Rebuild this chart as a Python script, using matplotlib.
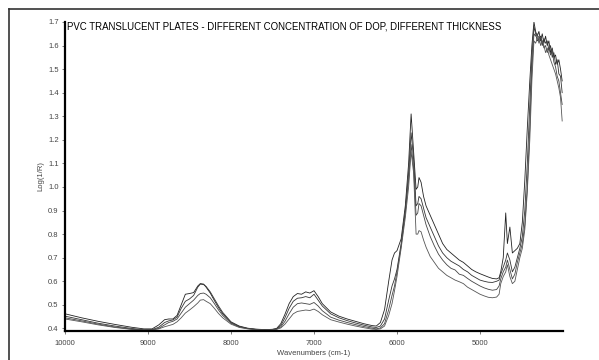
import matplotlib
matplotlib.use('Agg')
from matplotlib import pyplot as plt
from matplotlib.lines import Line2D

plt.rcParams['font.family'] = ['Liberation Sans', 'DejaVu Sans']

# wavenumbers (cm-1) and log(1/R) for the four plates
wavenumbers = [
    10000, 9800, 9600, 9400, 9200, 9050, 8950, 8870, 8800, 8750, 8700, 8650,
    8600, 8550, 8500, 8450, 8400, 8370, 8330, 8300, 8250, 8200, 8150, 8100,
    8000, 7900, 7800, 7700, 7600, 7500, 7450, 7400, 7350, 7300, 7250, 7200,
    7150, 7100, 7050, 7000, 6950, 6900, 6800, 6700, 6600, 6500, 6400, 6300,
    6250, 6200, 6150, 6100, 6060, 6030, 6000, 5950, 5900, 5860, 5830, 5800,
    5770, 5750, 5735, 5710, 5680, 5650, 5600, 5550, 5500, 5450, 5400, 5350,
    5300, 5250, 5200, 5150, 5100, 5050, 5000, 4950, 4900, 4850, 4800, 4770,
    4750, 4720, 4690, 4670, 4640, 4610, 4580, 4550, 4520, 4490, 4460, 4430,
    4400, 4375, 4350, 4330, 4310, 4290, 4270, 4250, 4230, 4210, 4190, 4170,
    4150, 4130, 4110, 4090, 4070, 4050, 4030, 4010,
]

plate_a = [
    0.462, 0.445, 0.430, 0.417, 0.405, 0.398, 0.398, 0.415, 0.437, 0.440, 0.440, 0.455,
    0.500, 0.545, 0.548, 0.552, 0.580, 0.590, 0.588, 0.575, 0.550, 0.518, 0.488, 0.462,
    0.425, 0.408, 0.400, 0.396, 0.395, 0.396, 0.400, 0.420, 0.460, 0.505, 0.535, 0.548,
    0.545, 0.555, 0.550, 0.560, 0.535, 0.505, 0.470, 0.452, 0.440, 0.430, 0.420, 0.412,
    0.410, 0.425, 0.480, 0.600, 0.690, 0.720, 0.730, 0.780, 0.920, 1.100, 1.310, 1.150,
    0.990, 1.000, 1.040, 1.020, 0.960, 0.920, 0.880, 0.840, 0.800, 0.760, 0.735, 0.720,
    0.705, 0.690, 0.680, 0.665, 0.650, 0.640, 0.632, 0.625, 0.618, 0.612, 0.610, 0.615,
    0.640, 0.700, 0.890, 0.760, 0.830, 0.720, 0.730, 0.740, 0.760, 0.850, 1.030, 1.250,
    1.450, 1.600, 1.700, 1.660, 1.640, 1.660, 1.620, 1.650, 1.610, 1.640, 1.600, 1.620,
    1.570, 1.590, 1.550, 1.560, 1.520, 1.540, 1.500, 1.450,
]

plate_b = [
    0.452, 0.437, 0.422, 0.410, 0.400, 0.394, 0.395, 0.405, 0.425, 0.432, 0.436, 0.448,
    0.485, 0.515, 0.525, 0.540, 0.575, 0.588, 0.586, 0.578, 0.555, 0.525, 0.495, 0.468,
    0.428, 0.410, 0.401, 0.397, 0.395, 0.396, 0.398, 0.412, 0.445, 0.485, 0.515, 0.528,
    0.530, 0.535, 0.530, 0.545, 0.520, 0.495, 0.462, 0.445, 0.433, 0.423, 0.414, 0.406,
    0.404, 0.410, 0.440, 0.520, 0.580, 0.610, 0.650, 0.760, 0.900, 1.060, 1.230, 1.120,
    0.920, 0.930, 0.960, 0.950, 0.910, 0.870, 0.830, 0.790, 0.750, 0.720, 0.700, 0.685,
    0.675, 0.665, 0.650, 0.640, 0.625, 0.615, 0.605, 0.600, 0.596, 0.595, 0.600, 0.605,
    0.630, 0.660, 0.690, 0.720, 0.690, 0.640, 0.660, 0.700, 0.740, 0.790, 0.900, 1.100,
    1.350, 1.550, 1.680, 1.650, 1.620, 1.630, 1.640, 1.600, 1.630, 1.610, 1.620, 1.580,
    1.600, 1.550, 1.570, 1.520, 1.540, 1.480, 1.470, 1.400,
]

plate_c = [
    0.445, 0.432, 0.418, 0.406, 0.397, 0.393, 0.394, 0.400, 0.415, 0.425, 0.430, 0.440,
    0.465, 0.490, 0.505, 0.520, 0.540, 0.548, 0.550, 0.545, 0.530, 0.505, 0.478, 0.455,
    0.422, 0.406, 0.399, 0.395, 0.394, 0.395, 0.397, 0.406, 0.430, 0.462, 0.490, 0.505,
    0.508, 0.505, 0.502, 0.510, 0.495, 0.475, 0.448, 0.435, 0.425, 0.416, 0.408, 0.401,
    0.398, 0.402, 0.420, 0.480, 0.540, 0.580, 0.640, 0.750, 0.890, 1.030, 1.180, 1.080,
    0.880, 0.890, 0.930, 0.920, 0.880, 0.840, 0.790, 0.750, 0.715, 0.690, 0.670, 0.655,
    0.648, 0.630, 0.625, 0.612, 0.600, 0.590, 0.580, 0.572, 0.566, 0.562, 0.565, 0.580,
    0.610, 0.640, 0.660, 0.690, 0.650, 0.610, 0.630, 0.680, 0.720, 0.760, 0.840, 1.000,
    1.250, 1.500, 1.650, 1.640, 1.650, 1.610, 1.630, 1.620, 1.590, 1.600, 1.570, 1.590,
    1.560, 1.580, 1.530, 1.510, 1.470, 1.450, 1.400, 1.350,
]

plate_d = [
    0.440, 0.428, 0.415, 0.404, 0.396, 0.393, 0.394, 0.398, 0.407, 0.412, 0.417, 0.428,
    0.445, 0.465, 0.478, 0.492, 0.508, 0.520, 0.522, 0.515, 0.505, 0.485, 0.463, 0.445,
    0.418, 0.404, 0.398, 0.395, 0.394, 0.395, 0.396, 0.402, 0.418, 0.440, 0.462, 0.472,
    0.475, 0.478, 0.476, 0.482, 0.472, 0.458, 0.437, 0.427, 0.418, 0.410, 0.403, 0.397,
    0.396, 0.398, 0.410, 0.455, 0.505, 0.560, 0.620, 0.740, 0.870, 1.000, 1.150, 1.060,
    0.800, 0.800, 0.815, 0.810, 0.775, 0.745, 0.705, 0.680, 0.655, 0.640, 0.625, 0.615,
    0.605, 0.598, 0.590, 0.575, 0.565, 0.555, 0.545, 0.538, 0.532, 0.530, 0.533, 0.545,
    0.590, 0.620, 0.640, 0.670, 0.620, 0.590, 0.600, 0.650, 0.700, 0.740, 0.820, 0.980,
    1.200, 1.450, 1.620, 1.610, 1.630, 1.640, 1.600, 1.620, 1.600, 1.570, 1.590, 1.560,
    1.540, 1.520, 1.500, 1.480, 1.450, 1.420, 1.380, 1.280,
]

plates = [plate_a, plate_b, plate_c, plate_d]
line_colors = ['#222222', '#333333', '#444444', '#555555']
x_ticks = [10000, 9000, 8000, 7000, 6000, 5000]
y_ticks = [0.4, 0.5, 0.6, 0.7, 0.8, 0.9, 1.0, 1.1, 1.2, 1.3, 1.4, 1.5, 1.6, 1.7]

fig = plt.figure(figsize=(5.99, 3.6), dpi=100)
ax = fig.add_axes([65 / 599, 1 - 331 / 360, 498 / 599, 309 / 360])

for vals, c in zip(plates, line_colors):
    ax.plot(wavenumbers, vals, color=c, lw=0.6)

ax.set_xlim(10000, 4000)
ax.set_ylim(0.389, 1.7)
ax.set_xticks(x_ticks)
ax.set_yticks(y_ticks)
ax.set_yticklabels(['%.1f' % v for v in y_ticks])
ax.tick_params(axis='both', labelsize=5.5, labelcolor='#444444',
               color='#666666', length=2.5, width=0.6, pad=2)
ax.tick_params(axis='x', pad=4)

for side in ['top', 'right']:
    ax.spines[side].set_visible(False)
for side in ['left', 'bottom']:
    ax.spines[side].set_linewidth(1.6)
    ax.spines[side].set_color('black')

ax.set_xlabel('Wavenumbers (cm-1)', fontsize=5.5, color='#444444', labelpad=2)
ax.set_ylabel('Log(1/R)', fontsize=5.5, color='#444444', labelpad=3)

ax.text(0.004, 1 - 4.5 / 309, 'PVC TRANSLUCENT PLATES - DIFFERENT CONCENTRATION OF DOP, DIFFERENT THICKNESS',
        transform=ax.transAxes, fontsize=6.9, ha='left', va='center', color='black')

# outer frame (left and top edges only)
fig.add_artist(Line2D([9 / 599, 9 / 599], [0, 1 - 9 / 360], color='#333333', lw=1.2))
fig.add_artist(Line2D([9 / 599, 1], [1 - 9 / 360, 1 - 9 / 360], color='#333333', lw=1.2))

fig.savefig('out.png', dpi=100)
